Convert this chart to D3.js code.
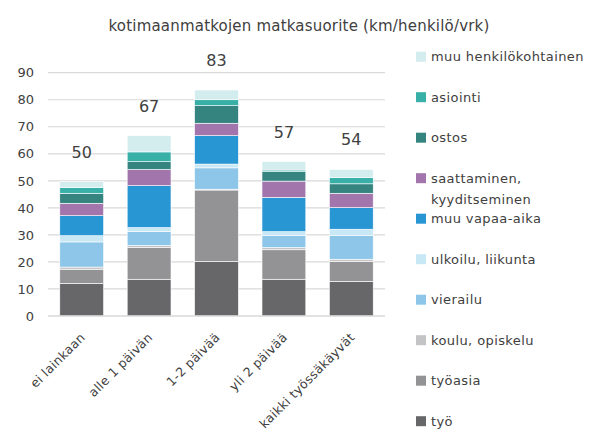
<!DOCTYPE html>
<html>
<head>
<meta charset="utf-8">
<script src="https://cdn.jsdelivr.net/npm/d3@7"></script>
<style>
  body { margin: 0; background: #fff; }
  text { font-family: "DejaVu Sans", sans-serif; fill: #404040; }
</style>
</head>
<body>
<svg id="chart" width="590" height="435"></svg>
<script>
var categories = ["ei lainkaan", "alle 1 päivän", "1-2 päivää", "yli 2 päivää", "kaikki työssäkäyvät"];
var totals = [50, 67, 83, 57, 54];

// series from bottom to top
var seriesNames = ["työ", "työasia", "koulu, opiskelu", "vierailu", "ulkoilu, liikunta",
  "muu vapaa-aika", "saattaminen, kyyditseminen", "ostos", "asiointi", "muu henkilökohtainen"];
var colors = ["#67676a", "#939396", "#c4c4c6", "#8dc6e8", "#c8e8f5",
  "#2896d3", "#a275ad", "#35847f", "#38b0a8", "#d3ecee"];

var tyo = [12.1, 13.6, 20.2, 13.6, 12.8];
var tyoasia = [5.2, 11.7, 26.4, 10.9, 7.4];
var koulu = [0.8, 0.8, 0.3, 0.8, 0.8];
var vierailu = [9.3, 5.1, 7.9, 4.4, 8.7];
var ulkoilu = [2.3, 1.5, 1.4, 1.5, 2.4];
var muuVapaa = [7.4, 15.5, 10.5, 12.7, 8.0];
var saattaminen = [4.6, 6.0, 4.6, 6.0, 5.3];
var ostos = [3.7, 2.9, 6.5, 3.5, 3.5];
var asiointi = [2.1, 3.6, 2.2, 0.6, 2.3];
var muuHenk = [2.2, 6.0, 3.6, 3.1, 3.0];

var yTicks = [0, 10, 20, 30, 40, 50, 60, 70, 80, 90];

var seriesValues = [tyo, tyoasia, koulu, vierailu, ulkoilu, muuVapaa, saattaminen, ostos, asiointi, muuHenk];

var rows = categories.map(function (c, i) {
  var r = { cat: c };
  seriesNames.forEach(function (s, j) { r[s] = seriesValues[j][i]; });
  return r;
});

var svg = d3.select("#chart");

var x = d3.scaleBand().domain(categories).range([48, 385]).paddingInner(0.35).paddingOuter(0.175);
var y = d3.scaleLinear().domain([0, 90]).range([316, 72.7]);

// title
svg.append("text")
  .attr("x", 299)
  .attr("y", 31)
  .attr("text-anchor", "middle")
  .attr("font-size", "15px")
  .style("letter-spacing", "0.2px")
  .text("kotimaanmatkojen matkasuorite (km/henkilö/vrk)");

// gridlines
svg.append("g")
  .selectAll("line")
  .data(yTicks.slice(1))
  .enter()
  .append("line")
  .attr("x1", 48)
  .attr("x2", 385)
  .attr("y1", function (d) { return y(d); })
  .attr("y2", function (d) { return y(d); })
  .style("stroke", "#d9d9d9")
  .style("stroke-width", 1.2);

// y axis labels
var yAxis = d3.axisLeft(y).tickValues(yTicks).tickSize(0).tickPadding(0);
var yg = svg.append("g").attr("transform", "translate(34,0)").call(yAxis);
yg.select(".domain").remove();
yg.selectAll("text").attr("font-size", "13px").style("fill", "#404040").attr("font-family", null);

// stacked bars
var stack = d3.stack().keys(seriesNames);
var layers = stack(rows);

svg.append("g")
  .selectAll("g")
  .data(layers)
  .enter()
  .append("g")
  .style("fill", function (d, i) { return colors[i]; })
  .selectAll("rect")
  .data(function (d) { return d; })
  .enter()
  .append("rect")
  .attr("x", function (d) { return x(d.data.cat); })
  .attr("width", x.bandwidth())
  .attr("y", function (d) { return y(d[1]); })
  .attr("height", function (d) { return y(d[0]) - y(d[1]); })
  .style("stroke", "#fff")
  .style("stroke-width", 0.6);

// baseline
svg.append("line")
  .attr("x1", 48)
  .attr("x2", 385)
  .attr("y1", y(0))
  .attr("y2", y(0))
  .style("stroke", "#d9d9d9")
  .style("stroke-width", 1.5);

// totals above bars
svg.append("g")
  .selectAll("text")
  .data(categories)
  .enter()
  .append("text")
  .attr("x", function (d) { return x(d) + x.bandwidth() / 2; })
  .attr("y", function (d, i) {
    var top = d3.sum(seriesValues, function (s) { return s[i]; });
    return y(top) - 24;
  })
  .attr("text-anchor", "middle")
  .attr("font-size", "16px")
  .text(function (d, i) { return totals[i]; });

// x axis labels
svg.append("g")
  .selectAll("text")
  .data(categories)
  .enter()
  .append("text")
  .attr("transform", function (d) {
    return "translate(" + (x(d) + x.bandwidth() / 2 - 2) + ",332) rotate(-45)";
  })
  .attr("text-anchor", "end")
  .attr("dy", "0.7em")
  .attr("font-size", "12.5px")
  .style("letter-spacing", "0.3px")
  .text(function (d) { return d; });

// legend
var legendNames = seriesNames.slice().reverse();
var legendColors = colors.slice().reverse();
var legend = svg.append("g")
  .selectAll("g")
  .data(legendNames)
  .enter()
  .append("g")
  .attr("transform", function (d, i) { return "translate(416," + (56.7 + i * 40.5) + ")"; });

legend.append("rect")
  .attr("x", 0)
  .attr("y", -5)
  .attr("width", 10)
  .attr("height", 10)
  .style("fill", function (d, i) { return legendColors[i]; });

legend.append("text")
  .attr("x", 15)
  .attr("y", 0)
  .attr("dy", "0.35em")
  .attr("font-size", "13px")
  .style("letter-spacing", "0.4px")
  .each(function (d) {
    var t = d3.select(this);
    if (d === "saattaminen, kyyditseminen") {
      t.append("tspan").attr("x", 15).attr("dy", "0.35em").text("saattaminen,");
      t.append("tspan").attr("x", 15).attr("dy", "1.6em").text("kyyditseminen");
      t.attr("dy", null);
    } else {
      t.text(d);
    }
  });
</script>
</body>
</html>
